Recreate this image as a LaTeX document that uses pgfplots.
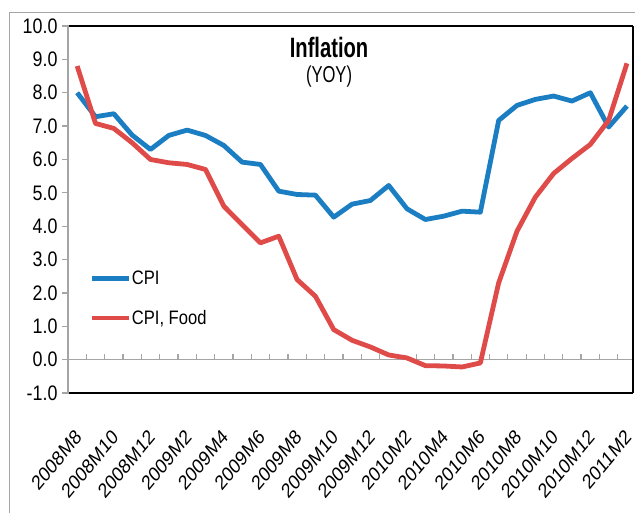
\documentclass[border=0pt]{standalone}
\usepackage{pgfplots}
\pgfplotsset{compat=1.18}
\usepackage{fontspec}
\setmainfont{Liberation Sans}[FakeStretch=0.85]
\newfontfamily\titlefont{Liberation Sans}[FakeStretch=0.72]
\newfontfamily\plainfont{Liberation Sans}
\definecolor{cpiblue}{RGB}{27,126,194}
\definecolor{foodred}{RGB}{222,75,72}
\definecolor{axgray}{RGB}{165,165,165}
\pgfplotstableread{
x cpi food
0 8.0 8.8
1 7.28 7.08
2 7.37 6.93
3 6.73 6.5
4 6.3 6.0
5 6.72 5.9
6 6.88 5.85
7 6.72 5.7
8 6.42 4.6
9 5.92 4.05
10 5.85 3.5
11 5.05 3.7
12 4.95 2.4
13 4.93 1.9
14 4.27 0.9
15 4.66 0.58
16 4.77 0.38
17 5.22 0.14
18 4.52 0.05
19 4.2 -0.18
20 4.3 -0.19
21 4.45 -0.22
22 4.42 -0.1
23 7.17 2.3
24 7.62 3.85
25 7.8 4.87
26 7.9 5.58
27 7.75 6.03
28 8.0 6.45
29 6.97 7.17
30 7.6 8.88
}\datatable
\begin{document}
\begin{tikzpicture}[x=1pt,y=1pt]
\useasboundingbox (0,0) rectangle (635,512);
\draw[axgray, line width=1.8pt] (9.5,-5) -- (9.5,499.5) -- (645,499.5);
\begin{axis}[
  at={(68pt,119pt)}, anchor=south west,
  width=565pt, height=367pt, scale only axis,
  xmin=-0.5, xmax=30.33, ymin=-1, ymax=10,
  axis line style={draw=none},
  clip=false,
  xtick={0,2,...,30},
  xticklabels={2008M8,2008M10,2008M12,2009M2,2009M4,2009M6,2009M8,2009M10,2009M12,2010M2,2010M4,2010M6,2010M8,2010M10,2010M12,2011M2},
  x tick style={draw=none},
  xtick pos=left,
  xticklabel style={font=\plainfont\fontsize{20.5}{24}\selectfont, xshift=2pt, xscale=0.84, rotate=45, anchor=east, inner sep=1pt},
  xticklabel shift=34pt,
  ytick={-1,0,...,10},
  yticklabels={-1.0,0.0,1.0,2.0,3.0,4.0,5.0,6.0,7.0,8.0,9.0,10.0},
  ytick pos=left,
  y tick style={axgray, line width=1.3pt},
  tick align=outside,
  major tick length=6pt,
  yticklabel style={font=\fontsize{21}{25}\selectfont, xshift=-1pt},
  legend style={draw=none, fill=none, at={(axis description cs:0.037,0.2575)}, anchor=west,
    font=\fontsize{19.5}{23}\selectfont, inner sep=0pt, row sep=22pt, column sep=0pt,
    nodes={inner sep=1pt}},
  legend cell align=left,
  legend image code/.code={\draw[#1] (0pt,0pt) -- (37pt,0pt);},
]
\draw[axgray, line width=1.6pt] (axis cs:-0.5,0) -- (axis cs:30.33,0);
\pgfplotsinvokeforeach{0,...,29}{\draw[axgray, line width=1.3pt] (axis cs:#1+0.5,0) -- ++(0pt,6pt);}
\addplot[cpiblue, line width=4.8pt, line join=round] table[x=x, y=cpi] {\datatable};
\addlegendentry{CPI}
\addplot[foodred, line width=4.8pt, line join=round] table[x=x, y=food] {\datatable};
\addlegendentry{CPI, Food}
\draw[black, line width=2.6pt] (rel axis cs:0,1) -- (rel axis cs:1,1);
\draw[black, line width=2.6pt] (rel axis cs:0,0) -- (rel axis cs:1,0);
\draw[black, line width=1.4pt] (rel axis cs:1,0) -- (rel axis cs:1,1);
\draw[axgray, line width=2.2pt] (rel axis cs:0,-0.003) -- (rel axis cs:0,1.003);
\node[anchor=base, font=\titlefont\fontsize{28}{32}\selectfont\bfseries] at (axis description cs:0.462,0.9155) {Inflation};
\node[anchor=base, font=\titlefont\fontsize{23}{27}\selectfont] at (axis description cs:0.462,0.845) {(YOY)};
\end{axis}
\end{tikzpicture}
\end{document}
